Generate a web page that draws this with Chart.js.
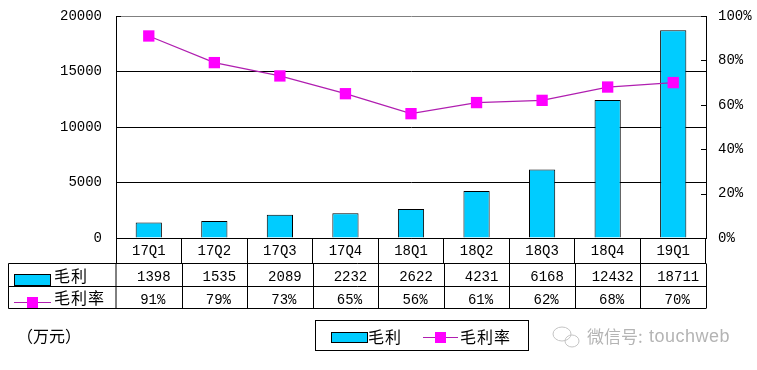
<!DOCTYPE html>
<html>
<head>
<meta charset="utf-8">
<style>
  html, body { margin: 0; padding: 0; background: #fff; }
  #chart { display: block; }
</style>
<script src="https://cdn.jsdelivr.net/npm/chart.js@4"></script>
</head>
<body>
<canvas id="chart" width="757" height="370"></canvas>
<script>
var categories = ["17Q1", "17Q2", "17Q3", "17Q4", "18Q1", "18Q2", "18Q3", "18Q4", "19Q1"];
var grossProfit = [1398, 1535, 2089, 2232, 2622, 4231, 6168, 12432, 18711];
var grossMargin = [91, 79, 73, 65, 56, 61, 62, 68, 70];
var profitName = "毛利";
var marginName = "毛利率";
var unitLabel = "（万元）";
var watermarkCn = "微信号:";
var watermarkEn = "touchweb";

var latinFamily = "Liberation Mono";
var latinFont = '14px "Liberation Mono"';
var cjkFont = '16px "Noto Sans CJK SC"';
var barColor = "#00ccff";
var lineColor = "#b01eb0";
var markerColor = "#ff00ff";

function line(ctx, x1, y1, x2, y2) {
  ctx.beginPath();
  ctx.moveTo(x1, y1);
  ctx.lineTo(x2, y2);
  ctx.stroke();
}

function barKey(ctx, x, y, w, h) {
  ctx.fillStyle = barColor;
  ctx.fillRect(x, y, w, h);
  ctx.strokeStyle = "#000";
  ctx.lineWidth = 1;
  ctx.strokeRect(x, y, w, h);
}

function lineKey(ctx, x1, x2, y) {
  ctx.strokeStyle = lineColor;
  ctx.lineWidth = 1;
  line(ctx, x1, y, x2, y);
  ctx.fillStyle = markerColor;
  ctx.fillRect((x1 + x2) / 2 - 5.5, y - 5.5, 11, 11);
}

function cjkText(ctx, text, x, y, color, font, spacing) {
  ctx.font = font || cjkFont;
  ctx.letterSpacing = spacing || "1px";
  ctx.fillStyle = color || "#000";
  ctx.textAlign = "left";
  ctx.textBaseline = "middle";
  ctx.fillText(text, x, y);
  ctx.letterSpacing = "0px";
}

// data table, legend box and watermark under the plot
var tablePlugin = {
  id: "table",
  afterDraw: function (chart) {
    var ctx = chart.ctx, x = chart.scales.x, y1 = chart.scales.y1, area = chart.chartArea;
    var rowA = 263.5, rowB = 286.5, rowC = 308.5, left = 8.5;
    ctx.save();

    // inward tick marks on the right axis, plus the top left one
    ctx.strokeStyle = "#000";
    ctx.lineWidth = 1;
    y1.ticks.forEach(function (t) {
      var py = Math.round(y1.getPixelForValue(t.value)) + 0.5;
      line(ctx, area.right - 5, py, area.right, py);
    });
    line(ctx, area.left, area.top + 0.5, area.left + 5, area.top + 0.5);

    line(ctx, left, rowA, area.right, rowA);
    line(ctx, left, rowB, area.right, rowB);
    line(ctx, left, rowC, area.right, rowC);
    line(ctx, left, rowA, left, rowC);
    line(ctx, area.left, rowA, area.left, rowC);
    categories.forEach(function (c, i) {
      var edge = Math.round(x.getPixelForValue(i) + x.width / categories.length / 2) + 0.5;
      line(ctx, edge, rowA, edge, rowC);
    });

    ctx.font = latinFont;
    ctx.fillStyle = "#000";
    ctx.textAlign = "center";
    ctx.textBaseline = "middle";
    categories.forEach(function (c, i) {
      var cx = x.getPixelForValue(i) + 5;
      ctx.fillText(String(grossProfit[i]), cx, 277);
      ctx.fillText(grossMargin[i] + "%", cx - 1, 300);
    });

    barKey(ctx, 14.5, 274.5, 36, 11);
    cjkText(ctx, profitName, 54, 276);
    lineKey(ctx, 14, 51, 302.5);
    cjkText(ctx, marginName, 54, 298);

    cjkText(ctx, unitLabel, 17, 336, "#000", cjkFont, "0px");

    ctx.strokeStyle = "#000";
    ctx.lineWidth = 1;
    ctx.strokeRect(315.5, 320.5, 213, 30);
    barKey(ctx, 331.5, 332.5, 36, 10);
    cjkText(ctx, profitName, 368, 337);
    lineKey(ctx, 423, 458, 337.5);
    cjkText(ctx, marginName, 460, 337);

    // watermark bubbles
    ctx.strokeStyle = "#c4c4c4";
    ctx.lineWidth = 1;
    ctx.beginPath();
    ctx.ellipse(562, 334, 9, 7, 0, 0, Math.PI * 2);
    ctx.stroke();
    ctx.beginPath();
    ctx.ellipse(572, 341, 7, 6, 0, 0, Math.PI * 2);
    ctx.stroke();
    cjkText(ctx, watermarkCn, 587, 337, "#b4b4b4", '17px "Noto Sans CJK SC"', "0px");
    cjkText(ctx, watermarkEn, 649, 337, "#b4b4b4", '18px "Liberation Sans"', "0.5px");

    ctx.restore();
  }
};

// tick padding would otherwise push the plot down
function fixAxis(s, width) {
  s.width = width;
  s.paddingTop = 0;
  s.paddingBottom = 0;
}

new Chart(document.getElementById("chart").getContext("2d"), {
  type: "bar",
  data: {
    labels: categories,
    datasets: [
      {
        type: "line",
        label: marginName,
        data: grossMargin,
        yAxisID: "y1",
        order: 0,
        borderColor: lineColor,
        borderWidth: 1.2,
        tension: 0,
        pointStyle: "rect",
        pointRadius: 8,
        pointBackgroundColor: markerColor,
        pointBorderColor: markerColor,
        pointBorderWidth: 0
      },
      {
        label: profitName,
        data: grossProfit,
        yAxisID: "y",
        order: 1,
        backgroundColor: barColor,
        borderColor: "#000",
        borderWidth: 1,
        barPercentage: 0.4,
        categoryPercentage: 1
      }
    ]
  },
  options: {
    responsive: false,
    animation: false,
    layout: { padding: { left: 0, right: 0, top: 16, bottom: 107 } },
    plugins: { legend: { display: false }, tooltip: { enabled: false } },
    scales: {
      x: {
        afterFit: function (s) { s.height = 25; },
        border: { color: "#000", width: 1 },
        grid: { drawOnChartArea: false, tickLength: 25, color: "#000" },
        ticks: { padding: -20, color: "#000", font: { family: latinFamily, size: 14 }, maxRotation: 0, autoSkip: false }
      },
      y: {
        position: "left",
        min: 0,
        max: 20000,
        afterFit: function (s) { fixAxis(s, 116); },
        border: { color: "#000", width: 1 },
        grid: {
          drawTicks: false,
          color: function (c) { return c.tick.value === 20000 ? "#808080" : "#000"; }
        },
        ticks: {
          stepSize: 5000,
          padding: 14,
          color: "#000",
          font: { family: latinFamily, size: 14 },
          callback: function (v) { return String(v); }
        }
      },
      y1: {
        position: "right",
        min: 0,
        max: 100,
        afterFit: function (s) { fixAxis(s, 51); },
        border: { color: "#000", width: 1 },
        grid: { drawOnChartArea: false, drawTicks: false },
        ticks: {
          stepSize: 20,
          padding: 12,
          color: "#000",
          font: { family: latinFamily, size: 14 },
          callback: function (v) { return v + "%"; }
        }
      }
    }
  },
  plugins: [tablePlugin]
});
</script>
</body>
</html>
